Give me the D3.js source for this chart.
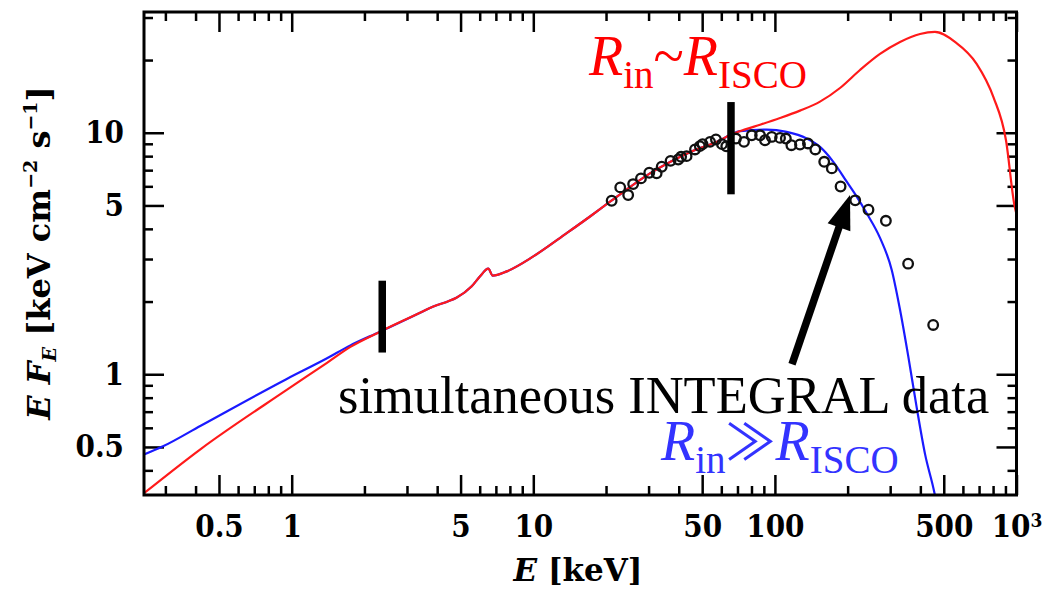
<!DOCTYPE html>
<html>
<head>
<meta charset="utf-8">
<script src="https://cdn.jsdelivr.net/npm/d3@7"></script>
<style>
  html, body { margin: 0; padding: 0; background: #fff; }
  svg { display: block; }
  .tick text {
    font-family: "DejaVu Serif Condensed", "DejaVu Serif", serif;
    font-stretch: condensed;
    font-weight: bold;
    font-size: 31px;
    fill: #000;
  }
  .tick line { stroke: #000; stroke-width: 2.5px; }
  .domain { display: none; }
</style>
</head>
<body>
<svg id="chart" width="1061" height="594"></svg>
<script>
// ---- Model spectra (E in keV, E F_E in keV cm^-2 s^-1) ----
// Low-energy branch of the truncated-disc model (R_in >> R_ISCO)
const blueLowE = [0.2447, 0.2933, 0.42, 0.95, 1.4, 1.75];
const blueLowF = [0.465, 0.503, 0.612, 0.954, 1.164, 1.317];
// Low-energy branch of the model with R_in ~ R_ISCO
const redLowE = [0.2447, 0.42, 0.95, 1.4, 1.75];
const redLowF = [0.3215, 0.49, 0.859, 1.115, 1.298];
// Part shared by both models (includes the Fe K line near 6.4 keV)
const commonE = [2.32, 3.62, 5.56, 6.02, 6.51, 6.79, 7.76, 10.0, 13.75, 17.17, 20.77, 30.4, 44.5, 59.3, 66.0];
const commonF = [1.50, 1.854, 2.312, 2.543, 2.736, 2.56, 2.667, 3.075, 3.84, 4.50, 5.18, 6.79, 8.31, 9.31, 9.85];
// High-energy branch, R_in ~ R_ISCO (reflection hump up to 1 MeV)
const redHighE = [76.0, 86.8, 105, 127, 153.7, 186, 225, 272.3, 329.5, 398.7, 459.8, 559.8, 683.9, 802.6, 904.7, 981.1, 1000];
const redHighF = [10.35, 10.80, 11.51, 12.35, 13.45, 15.32, 18.19, 21.2, 23.76, 25.64, 26.14, 23.68, 19.3, 14.05, 9.31, 5.0, 4.6];
// High-energy branch, R_in >> R_ISCO (thermal cut-off)
const blueHighE = [71.7, 92.5, 111.9, 135.4, 153.7, 174.5, 198.3, 218.1, 239.9, 272.3, 304.3, 329.4, 356.5, 387.3, 418.1, 457.8, 470];
const blueHighF = [10.15, 10.31, 10.08, 9.465, 8.736, 7.58, 6.27, 5.44, 4.64, 3.67, 2.71, 1.854, 1.186, 0.717, 0.468, 0.3215, 0.28];

// ---- Simultaneous INTEGRAL data ----
const dataE = [21.1, 22.9, 24.7, 25.9, 27.9, 30.2, 32.4, 34.0, 37.0, 39.8, 40.9, 43.1, 46.7, 48.9, 50.2, 53.9, 57.0, 60.4, 62.9,
               69.0, 74.5, 80.2, 86.8, 91.0, 97.0, 105, 111, 117, 127, 137, 147, 160, 172, 187, 215, 244, 288, 356, 452];
const dataF = [5.23, 5.94, 5.52, 6.13, 6.47, 6.83, 6.79, 7.23, 7.65, 7.75, 7.95, 8.0, 8.53, 8.8, 8.97, 9.17, 9.38, 8.97, 8.79,
               9.46, 9.17, 9.76, 9.76, 9.31, 9.61, 9.52, 9.46, 8.88, 8.94, 9.03, 8.53, 7.58, 7.12, 5.99, 5.25, 4.80, 4.32, 2.87, 1.60];

// ---- Energy markers (vertical bars) ----
const barE  = [2.37, 65.8];
const barLo = [1.23, 5.56];
const barHi = [2.44, 13.4];

// ---- Arrow pointing to the INTEGRAL points ----
const arrowFrom = [117.7, 1.10];
const arrowTo   = [204.6, 5.52];

// ---- Axis ticks ----
const xMajor = [0.5, 1, 5, 10, 50, 100, 500, 1000];
const xMajorLabels = ["0.5", "1", "5", "10", "50", "100", "500", "10^3"];
const xMinor = [0.3, 0.4, 0.6, 0.7, 0.8, 0.9, 2, 3, 4, 6, 7, 8, 9, 20, 30, 40, 60, 70, 80, 90, 200, 300, 400, 600, 700, 800, 900];
const yMajor = [0.5, 1, 5, 10];
const yMajorLabels = ["0.5", "1", "5", "10"];
const yMinor = [0.4, 0.6, 0.7, 0.8, 0.9, 2, 3, 4, 6, 7, 8, 9, 20, 30];

const svg = d3.select("#chart");
svg.append("rect").attr("width", 1061).attr("height", 594).attr("fill", "#fff");

const plotL = 144, plotR = 1016.5, plotT = 12, plotB = 495;
const x = d3.scaleLog().domain([0.2447, 1000]).range([plotL, plotR]);
const y = d3.scaleLog().domain([Math.pow(10, -0.5), Math.pow(10, 1.5)]).range([plotB, plotT]);

// clip region for the curves
svg.append("clipPath").attr("id", "plot-clip")
  .append("rect").attr("x", plotL).attr("y", plotT).attr("width", plotR - plotL).attr("height", plotB - plotT);

const MAJ = 20, MIN = 9;
const fmtX = d => xMajorLabels[xMajor.indexOf(d)];
const fmtY = d => yMajorLabels[yMajor.indexOf(d)];

// bottom axis with labels
const gB = svg.append("g").attr("transform", `translate(0,${plotB})`);
gB.call(d3.axisBottom(x).tickValues(xMajor).tickSizeInner(-MAJ).tickSizeOuter(0).tickPadding(20).tickFormat(fmtX));
gB.append("g").call(d3.axisBottom(x).tickValues(xMinor).tickSizeInner(-MIN).tickSizeOuter(0).tickFormat(""));
// superscript exponent for 10^3
gB.selectAll(".tick text").filter(d => d === 1000).each(function () {
  const t = d3.select(this).text("");
  t.append("tspan").text("10");
  t.append("tspan").attr("font-size", "19px").attr("dy", "-10").text("3");
});

// top axis (ticks only)
const gT = svg.append("g").attr("transform", `translate(0,${plotT})`);
gT.call(d3.axisTop(x).tickValues(xMajor).tickSizeInner(-MAJ).tickSizeOuter(0).tickFormat(""));
gT.append("g").call(d3.axisTop(x).tickValues(xMinor).tickSizeInner(-MIN).tickSizeOuter(0).tickFormat(""));

// left axis with labels
const gL = svg.append("g").attr("transform", `translate(${plotL},0)`);
gL.call(d3.axisLeft(y).tickValues(yMajor).tickSizeInner(-MAJ).tickSizeOuter(0).tickPadding(20).tickFormat(fmtY));
gL.append("g").call(d3.axisLeft(y).tickValues(yMinor).tickSizeInner(-MIN).tickSizeOuter(0).tickFormat(""));

// right axis (ticks only)
const gR = svg.append("g").attr("transform", `translate(${plotR},0)`);
gR.call(d3.axisRight(y).tickValues(yMajor).tickSizeInner(-MAJ).tickSizeOuter(0).tickFormat(""));
gR.append("g").call(d3.axisRight(y).tickValues(yMinor).tickSizeInner(-MIN).tickSizeOuter(0).tickFormat(""));

// ---- Model curves ----
const line = d3.line().x(d => x(d[0])).y(d => y(d[1])).curve(d3.curveMonotoneX);
const zip = (E, F) => E.map((e, i) => [e, F[i]]);
const blueCurve = zip(blueLowE, blueLowF).concat(zip(commonE, commonF), zip(blueHighE, blueHighF));
const redCurve = zip(redLowE, redLowF).concat(zip(commonE, commonF), zip(redHighE, redHighF));

const curves = svg.append("g").attr("clip-path", "url(#plot-clip)");
curves.append("path").datum(blueCurve).attr("d", line)
  .attr("fill", "none").attr("stroke", "#1a1aff").attr("stroke-width", 2.2);
curves.append("path").datum(redCurve).attr("d", line)
  .attr("fill", "none").attr("stroke", "#ff1a1a").attr("stroke-width", 2.2);

// ---- INTEGRAL points ----
svg.append("g").selectAll("circle").data(zip(dataE, dataF)).join("circle")
  .attr("cx", d => x(d[0])).attr("cy", d => y(d[1])).attr("r", 4.8)
  .attr("fill", "none").attr("stroke", "#111").attr("stroke-width", 2.3);

// ---- Vertical energy markers ----
svg.append("g").selectAll("line").data(barE.map((e, i) => [e, barLo[i], barHi[i]])).join("line")
  .attr("x1", d => x(d[0])).attr("x2", d => x(d[0]))
  .attr("y1", d => y(d[1])).attr("y2", d => y(d[2]))
  .attr("stroke", "#000").attr("stroke-width", 7.5);

// ---- Arrow ----
{
  const x0 = x(arrowFrom[0]), y0 = y(arrowFrom[1]);
  const x1 = x(arrowTo[0]), y1 = y(arrowTo[1]);
  const dx = x1 - x0, dy = y1 - y0, len = Math.hypot(dx, dy);
  const ux = dx / len, uy = dy / len, px = -uy, py = ux;
  const headLen = 34, headW = 12;
  const bx = x1 - ux * headLen, by = y1 - uy * headLen;
  svg.append("line").attr("x1", x0).attr("y1", y0).attr("x2", bx + ux * 2).attr("y2", by + uy * 2)
    .attr("stroke", "#000").attr("stroke-width", 7.5);
  svg.append("path")
    .attr("d", `M${x1},${y1}L${bx + px * headW},${by + py * headW}L${bx - px * headW},${by - py * headW}Z`)
    .attr("fill", "#000");
}

// ---- Frame ----
svg.append("rect").attr("x", plotL).attr("y", plotT).attr("width", plotR - plotL).attr("height", plotB - plotT)
  .attr("fill", "none").attr("stroke", "#000").attr("stroke-width", 3);

// ---- Axis titles ----
const titleFont = "'DejaVu Serif', serif";
const xt = svg.append("text").attr("x", 578).attr("y", 581).attr("text-anchor", "middle")
  .attr("font-family", titleFont).attr("font-weight", "bold").attr("font-size", 31);
xt.append("tspan").attr("font-style", "italic").text("E");
xt.append("tspan").text(" [keV]");

const yt = svg.append("text").attr("transform", "translate(50,253) rotate(-90)").attr("text-anchor", "middle")
  .attr("font-family", titleFont).attr("font-weight", "bold").attr("font-size", 32);
yt.append("tspan").attr("font-style", "italic").text("E ");
yt.append("tspan").attr("font-style", "italic").text("F");
yt.append("tspan").attr("font-style", "italic").attr("font-size", 19).attr("dy", 6).text("E");
yt.append("tspan").attr("dy", -6).text(" [keV cm");
yt.append("tspan").attr("font-size", 19).attr("dy", -13).text("\u22122");
yt.append("tspan").attr("dy", 13).text(" s");
yt.append("tspan").attr("font-size", 19).attr("dy", -13).text("\u22121");
yt.append("tspan").attr("dy", 13).text("]");

// ---- Annotations ----
const serif = "'Liberation Serif', 'Times New Roman', serif";
function rLabel(xp, yp, rel, relFont, color) {
  const t = svg.append("text").attr("x", xp).attr("y", yp).attr("fill", color)
    .attr("font-family", serif).attr("font-size", 56);
  t.append("tspan").attr("font-style", "italic").text("R");
  t.append("tspan").attr("font-size", 39).attr("dy", 13).text("in");
  const r = t.append("tspan").attr("dy", -13).text(rel);
  if (relFont) r.attr("font-family", relFont).attr("font-size", 50);
  t.append("tspan").attr("font-style", "italic").text("R");
  t.append("tspan").attr("font-size", 39).attr("dy", 13).text("ISCO");
}
rLabel(589, 75, "~", null, "#ff0000");
rLabel(661, 460, "\u226B", "'Noto Sans CJK JP', 'DejaVu Sans', sans-serif", "#3333ff");

svg.append("text").attr("x", 338).attr("y", 413).attr("fill", "#000")
  .attr("font-family", serif).attr("font-size", 52.5)
  .text("simultaneous INTEGRAL data");
</script>
</body>
</html>
